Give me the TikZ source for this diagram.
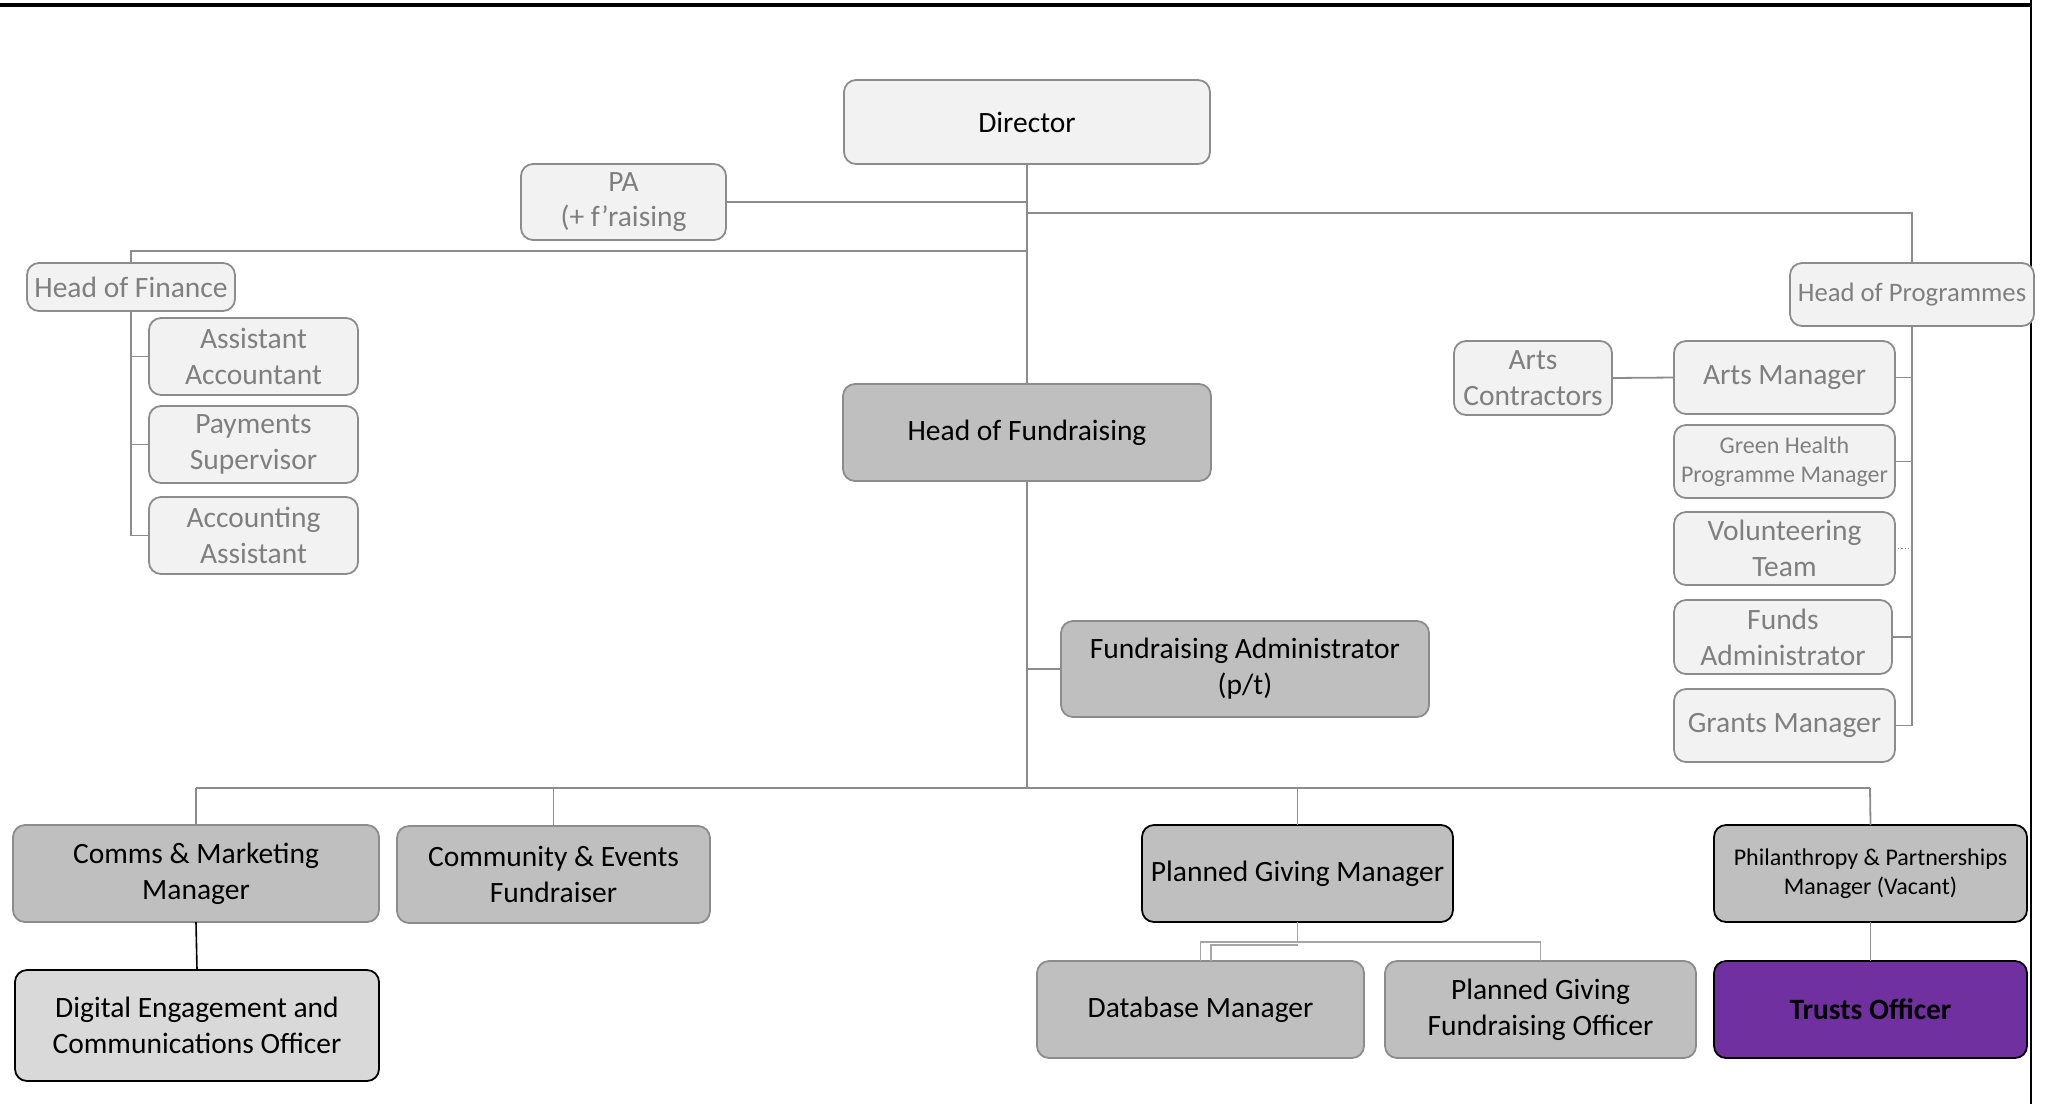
\documentclass[tikz,border=0pt]{standalone}
\usepackage{fontspec}
\setmainfont{Carlito}
\definecolor{lgfill}{HTML}{F2F2F2}
\definecolor{dgfill}{HTML}{BFBFBF}
\definecolor{mgfill}{HTML}{D9D9D9}
\definecolor{gtext}{HTML}{7F7F7F}
\definecolor{gline}{HTML}{8C8C8C}
\definecolor{lline}{HTML}{A6A6A6}
\definecolor{purp}{HTML}{7030A0}
\newcommand{\lowtext}[3]{\raisebox{-#3}{\begin{tabular}{@{}c@{}}#1\\[-9pt]#2\end{tabular}}}
\tikzset{
  base/.style={rectangle, rounded corners=12pt, inner sep=0pt, outer sep=0pt, align=center, line width=1.8pt, font=\fontsize{29.5}{36}\selectfont},
  lightbox/.style={base, fill=lgfill, draw=gline, text=gtext},
  topbox/.style={base, fill=lgfill, draw=gline, text=black},
  darkbox/.style={base, fill=dgfill, draw=gline, text=black},
  darkboxb/.style={base, fill=dgfill, draw=black, text=black},
  midbox/.style={base, fill=mgfill, draw=black, text=black},
  purpbox/.style={base, fill=purp, draw=black, text=black, font=\fontsize{29.5}{36}\selectfont\bfseries},
  conn/.style={draw=gline, line width=1.8pt},
  lconn/.style={draw=lline, line width=1.5pt},
  bconn/.style={draw=black, line width=1.6pt},
  sm/.style={font=\fontsize{24}{29.5}\selectfont},
}
\begin{document}
\begin{tikzpicture}[x=1pt,y=-1pt]
\useasboundingbox (0,0) rectangle (2058,1104);
% frame lines
\draw[line width=3.5pt] (0,5) -- (2032,5);
\draw[line width=2.2pt] (2031,0) -- (2031,1104);

\coordinate (dirbus) at (1027,213);
\coordinate (hopbus) at (1912,213);
\coordinate (finbusr) at (1027,251);
\coordinate (finbusl) at (131,251);
\coordinate (botl) at (196,788);
\coordinate (botr) at (1870,788);
\coordinate (botc) at (1027,788);

% nodes
\node[topbox, minimum width=366pt, minimum height=84pt] (dir) at (1027,122) {Director};
\node[lightbox, minimum width=205pt, minimum height=76pt] (pa) at (623.5,202) {PA\\[-1pt](+ f’raising};
\node[lightbox, minimum width=208pt, minimum height=48pt] (hof) at (131,287) {Head of Finance};
\node[lightbox, minimum width=209pt, minimum height=77pt] (aa) at (253.5,356.5) {Assistant\\Accountant};
\node[lightbox, minimum width=209pt, minimum height=77pt] (ps) at (253.5,444.5) {Payments\\Supervisor};
\node[lightbox, minimum width=209pt, minimum height=77pt] (acc) at (253.5,535.5) {Accounting\\Assistant};
\node[darkbox, minimum width=368pt, minimum height=97pt] (hofr) at (1027,432.5) {Head of Fundraising};
\node[darkbox, minimum width=368pt, minimum height=96pt] (fa) at (1245,669) {Fundraising Administrator\\(p/t)};
\node[lightbox, minimum width=244pt, minimum height=63pt, font=\fontsize{26.7}{31}\selectfont] (hop) at (1912,294.5) {Head of Programmes};
\node[lightbox, minimum width=221pt, minimum height=73pt] (am) at (1784.5,377.5) {Arts Manager};
\node[lightbox, sm, minimum width=221pt, minimum height=73pt] (gh) at (1784.5,461.5) {Green Health\\Programme Manager};
\node[lightbox, minimum width=221pt, minimum height=73pt] (vt) at (1784.5,548.5) {Volunteering\\Team};
\node[lightbox, minimum width=218pt, minimum height=74pt] (fad) at (1783,637) {Funds\\Administrator};
\node[lightbox, minimum width=221pt, minimum height=73pt] (gm) at (1784.5,725.5) {Grants Manager};
\node[lightbox, minimum width=158pt, minimum height=74pt] (ac) at (1533,378) {Arts\\Contractors};
\node[darkbox, minimum width=366pt, minimum height=97pt] (cm) at (196,873.5) {Comms \& Marketing\\Manager};
\node[darkbox, minimum width=313pt, minimum height=97pt] (ce) at (553.5,874.5) {Community \& Events\\Fundraiser};
\node[midbox, minimum width=364pt, minimum height=111pt] (de) at (197,1025.5) {Digital Engagement and\\Communications Officer};
\node[darkboxb, minimum width=311pt, minimum height=97pt] (pgm) at (1297.5,873.5) {Planned Giving Manager};
\node[darkboxb, sm, minimum width=313pt, minimum height=97pt] (ph) at (1870.5,873.5) {Philanthropy \& Partnerships\\Manager (Vacant)};
\node[darkbox, minimum width=327pt, minimum height=97pt] (db) at (1200.5,1009.5) {Database Manager};
\node[darkbox, minimum width=311pt, minimum height=97pt] (pgfo) at (1540.5,1009.5) {Planned Giving\\Fundraising Officer};
\node[purpbox, minimum width=313pt, minimum height=97pt] (to) at (1870.5,1009.5) {Trusts Officer};

% connectors
\path[conn] (dir.south) -- (hofr.north);
\path[conn] (pa.east) -- (pa.east -| dir.south);
\path[conn] (dirbus) -- (hopbus) -- (hop.north);
\path[conn] (finbusr) -- (finbusl) -- (hof.north);
% finance children
\coordinate (finbot) at (131,535.5);
\path[conn] (hof.south) -- (finbot) -- (acc.west);
\path[conn] (aa.west) -- (aa.west -| finbot);
\path[conn] (ps.west) -- (ps.west -| finbot);
% fundraising
\path[conn] (hofr.south) -- (botc);
\path[conn] (fa.west) -- (fa.west -| botc);
\path[conn] (botl) -- (botr);
\path[conn] (botl) -- (cm.north);
\path[conn] (ce.north |- botl) -- (ce.north);
\path[conn] (pgm.north |- botl) -- (pgm.north);
\path[conn] (botr) -- (ph.north);
\path[bconn] (cm.south) -- (de.north);
\path[conn] (ph.south) -- (to.north);
% planned giving
\coordinate (pgj) at (1297.5,942);
\coordinate (pgj2) at (1211,945);
\coordinate (pgj3) at (1297.5,945);
\path[lconn] (pgm.south) -- (pgj) -- (pgj -| db.north) -- (db.north);
\path[lconn] (pgj) -- (pgj -| pgfo.north) -- (pgfo.north);
\path[lconn] (pgj3) -- (pgj2) -- (pgj2 |- db.north);
% programmes
\coordinate (hopbot) at (1912,725.5);
\path[conn] (hop.south) -- (hopbot) -- (gm.east);
\path[conn] (am.east) -- (am.east -| hopbot);
\path[conn] (gh.east) -- (gh.east -| hopbot);
\path[conn] (fad.east) -- (fad.east -| hopbot);
\path[draw=gline, line width=1.2pt, dotted] (vt.east) -- (vt.east -| hopbot);
\path[conn] (ac.east) -- (am.west);
\end{tikzpicture}
\end{document}
